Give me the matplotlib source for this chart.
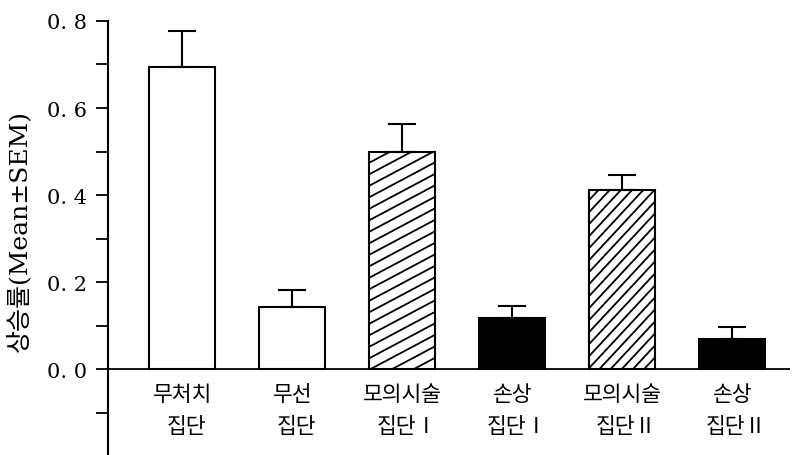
import numpy as np
import matplotlib.pyplot as plt
from matplotlib.ticker import FixedLocator

plt.rcParams['font.family'] = ['DejaVu Serif', 'Noto Sans CJK KR']

# Data
groups_top = ['무처치', '무선', '모의시술', '손상', '모의시술', '손상']
groups_bottom = ['집단', '집단', '집단Ⅰ', '집단Ⅰ', '집단Ⅱ', '집단Ⅱ']
means = [0.694, 0.143, 0.499, 0.117, 0.412, 0.069]
sems = [0.084, 0.039, 0.064, 0.029, 0.033, 0.027]
fills = ['white', 'white', 'hatch_flat', 'black', 'hatch_steep', 'black']

fig = plt.figure(figsize=(8.04, 4.56), dpi=100)
ax = fig.add_axes([0.1343, 0.0022, 0.848, 0.9496])
ax.set_xlim(-0.677, 5.523)
ax.set_ylim(-0.195, 0.8)

x = np.arange(len(means))
bars = ax.bar(x, means, width=0.6, color=['black' if f == 'black' else 'white' for f in fills],
              edgecolor='black', linewidth=1.5, zorder=2)
ax.errorbar(x, means, yerr=[np.zeros(len(sems)), sems], fmt='none', ecolor='black',
            elinewidth=1.5, capsize=10, capthick=1.5, zorder=3)


def slant_hatch(bar, angle, gap):
    # diagonal lines at a given angle (in pixels), clipped to the bar
    tr = ax.transData
    bx0, by0 = bar.get_x(), bar.get_y()
    bx1, by1 = bx0 + bar.get_width(), by0 + bar.get_height()
    (px0, py0), (px1, py1) = tr.transform([(bx0, by0), (bx1, by1)])
    t = np.tan(np.radians(angle))
    run = t * (px1 - px0)
    for c in np.arange(-run, (py1 - py0) + gap, gap):
        pts = tr.inverted().transform([(px0, py0 + c), (px1, py0 + c + run)])
        ln, = ax.plot(pts[:, 0], pts[:, 1], color='black', lw=1.3, zorder=2.5)
        ln.set_clip_path(bar)


for bar, f in zip(bars, fills):
    if f == 'hatch_flat':
        slant_hatch(bar, 28, 11.5)
    elif f == 'hatch_steep':
        slant_hatch(bar, 47, 12)

# zero line and axis
ax.axhline(0, color='black', lw=1.3, zorder=4)
for s in ['top', 'right', 'bottom']:
    ax.spines[s].set_visible(False)
ax.spines['left'].set_linewidth(1.5)
ax.set_xticks([])
ax.yaxis.set_major_locator(FixedLocator([0.0, 0.2, 0.4, 0.6, 0.8]))
ax.yaxis.set_minor_locator(FixedLocator([-0.1, 0.1, 0.3, 0.5, 0.7]))
ax.set_yticklabels(['0. 0', '0. 2', '0. 4', '0. 6', '0. 8'], fontsize=15)
ax.tick_params(axis='y', which='both', direction='out', length=9, width=1.3, pad=6)

# group labels under the bars
kr = ['Noto Sans CJK KR', 'DejaVu Sans']
for i in x:
    ax.text(i, -0.0575, groups_top[i], ha='center', va='center', fontsize=15.5, family=kr)
    ax.text(i + 0.04, -0.131, groups_bottom[i], ha='center', va='center', fontsize=15.5,
            family=kr)

fig.text(20 / 804, 1 - 231 / 456, '상승률(Mean±SEM)', rotation=90, ha='center', va='center',
         fontsize=18)

fig.savefig('out.png', dpi=100)
